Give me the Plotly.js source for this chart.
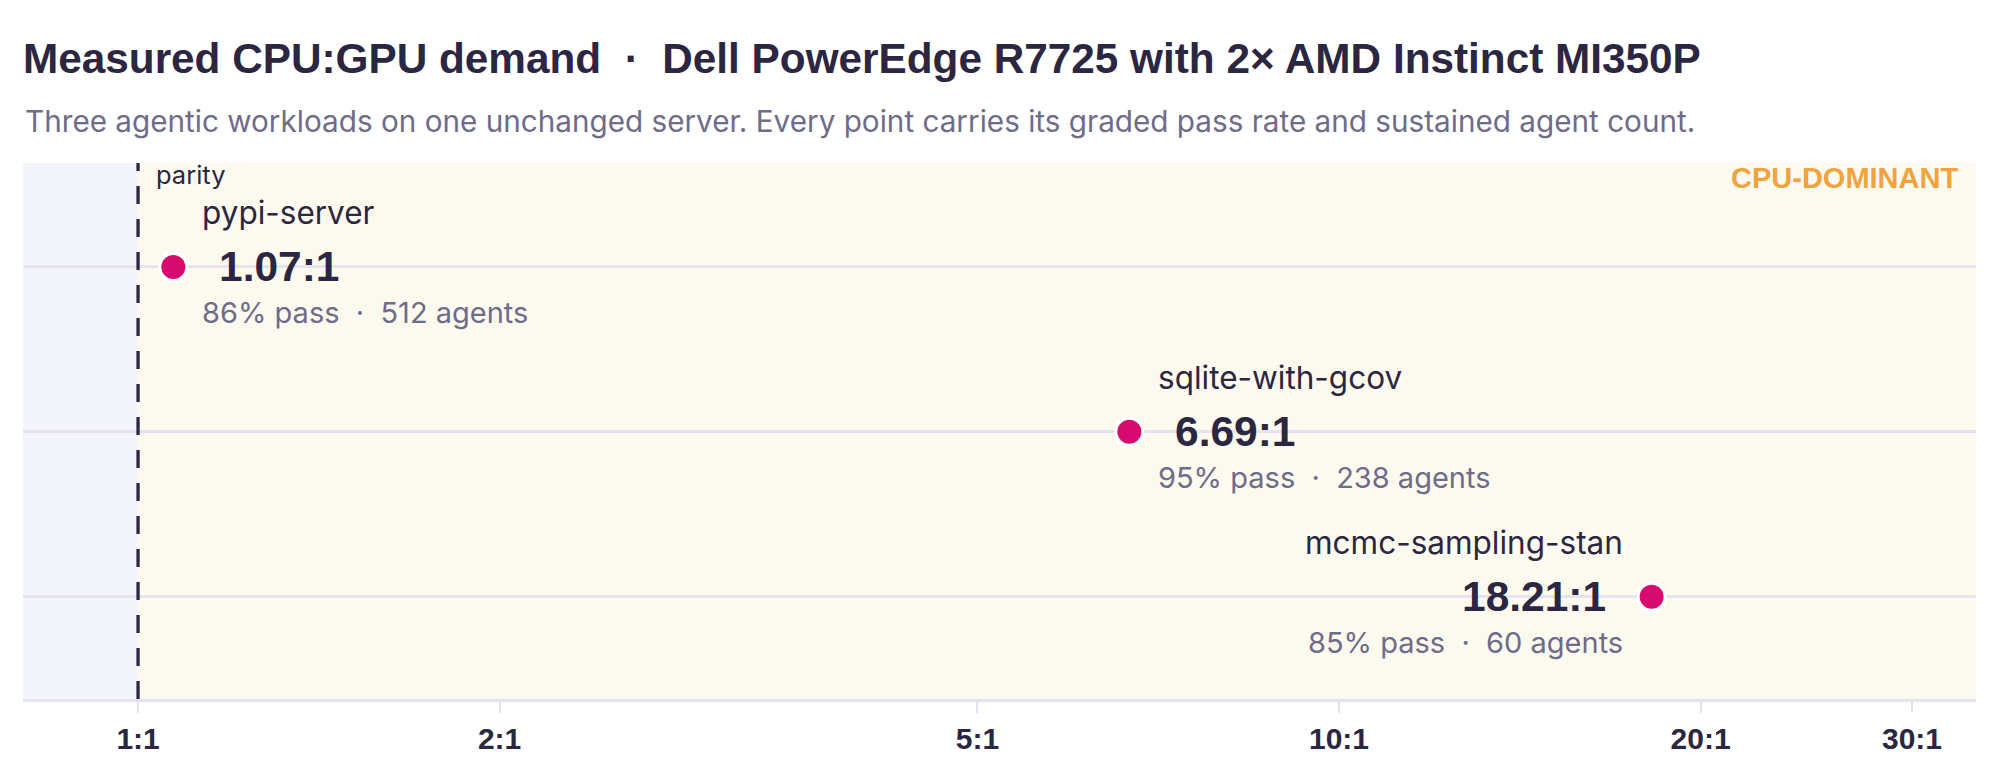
<!DOCTYPE html>
<html>
<head>
<meta charset="utf-8">
<script src="https://cdn.plot.ly/plotly-3.0.1.min.js"></script>
<style>
  html, body { margin: 0; padding: 0; background: #ffffff; }
  #chart { width: 1999px; height: 764px; }
</style>
</head>
<body>
<div id="chart"></div>
<script>
// Measured workloads, top row to bottom row
const workloads = ['pypi-server', 'sqlite-with-gcov', 'mcmc-sampling-stan'];
const cpuGpuRatio = [1.07, 6.69, 18.21];
const passRate = [86, 95, 85];
const agentCount = [512, 238, 60];

// x axis ticks (log scale)
const tickValues = [1, 2, 5, 10, 20, 30];
const tickLabels = ['1:1', '2:1', '5:1', '10:1', '20:1', '30:1'];

const xRangeLog = [-0.0958, 1.5304];
const yRange = [2.62, -0.63];

const ink = '#2b2641';
const muted = '#6f6b8a';
const grid = '#e6e3f0';
const magenta = '#d60a6f';
const regular = 'Inter, "Noto Sans", sans-serif';
const bold = '"Liberation Sans", Arial, sans-serif';

const rows = workloads.map((_, i) => i);

const trace = {
  x: cpuGpuRatio,
  y: rows,
  type: 'scatter',
  mode: 'markers',
  marker: { size: 27, color: magenta, line: { color: '#ffffff', width: 3 } },
  hoverinfo: 'skip',
  cliponaxis: false
};

// labels sit left of the point when it is close to the right edge
const annotations = [];
workloads.forEach((name, i) => {
  const lx = Math.log10(cpuGpuRatio[i]);
  const left = cpuGpuRatio[i] > 12;
  const dir = left ? -1 : 1;
  const anchor = left ? 'right' : 'left';
  annotations.push({
    x: lx, y: i, xref: 'x', yref: 'y', text: name, showarrow: false,
    xanchor: anchor, yanchor: 'middle', xshift: 27 * dir, yshift: 54,
    font: { family: regular, size: 31.5, color: ink }
  });
  annotations.push({
    x: lx, y: i, xref: 'x', yref: 'y', text: cpuGpuRatio[i].toFixed(2) + ':1', showarrow: false,
    xanchor: anchor, yanchor: 'middle', xshift: 44 * dir, yshift: 0,
    font: { family: bold, size: 42.5, color: ink, weight: 700 }
  });
  annotations.push({
    x: lx, y: i, xref: 'x', yref: 'y',
    text: passRate[i] + '% pass \u00a0\u00b7\u00a0 ' + agentCount[i] + ' agents', showarrow: false,
    xanchor: anchor, yanchor: 'middle', xshift: 27 * dir, yshift: -46,
    font: { family: regular, size: 29, color: muted }
  });
});

annotations.push({
  x: 0, y: 1, xref: 'x', yref: 'paper', text: 'parity', showarrow: false,
  xanchor: 'left', yanchor: 'top', xshift: 16, yshift: 6,
  font: { family: regular, size: 25.5, color: ink }
});
annotations.push({
  x: 1, y: 1, xref: 'paper', yref: 'paper', text: 'CPU-DOMINANT', showarrow: false,
  xanchor: 'right', yanchor: 'top', xshift: -16, yshift: 3,
  font: { family: bold, size: 29, color: '#f0a33f', weight: 700 }
});
annotations.push({
  x: 0, y: 1, xref: 'paper', yref: 'paper',
  text: 'Three agentic workloads on one unchanged server. Every point carries its graded pass rate and sustained agent count.',
  showarrow: false, xanchor: 'left', yanchor: 'middle', yshift: 42,
  font: { family: regular, size: 29.7, color: muted }
});

const shapes = [
  { type: 'rect', xref: 'x', yref: 'paper', x0: Math.pow(10, xRangeLog[0]), x1: 1, y0: 0, y1: 1,
    fillcolor: '#f4f5fb', line: { width: 0 }, layer: 'below' },
  { type: 'rect', xref: 'x', yref: 'paper', x0: 1, x1: Math.pow(10, xRangeLog[1]), y0: 0, y1: 1,
    fillcolor: '#fcfaef', line: { width: 0 }, layer: 'below' },
  { type: 'line', xref: 'x', yref: 'paper', x0: 1, x1: 1, y0: 0, y1: 1,
    line: { color: ink, width: 3.3, dash: '18px,15px' } }
];

const layout = {
  width: 1999,
  height: 764,
  margin: { l: 23, r: 23, t: 163, b: 65 },
  paper_bgcolor: '#ffffff',
  plot_bgcolor: '#ffffff',
  showlegend: false,
  title: {
    text: 'Measured CPU:GPU demand \u00a0\u00b7\u00a0 Dell PowerEdge R7725 with 2\u00d7 AMD Instinct MI350P',
    x: 0, xref: 'paper', xanchor: 'left',
    y: 1 - 58 / 764, yref: 'container', yanchor: 'middle',
    font: { family: bold, size: 42.3, color: ink, weight: 700 }
  },
  xaxis: {
    type: 'log',
    range: xRangeLog,
    tickvals: tickValues,
    ticktext: tickLabels,
    ticks: 'outside',
    ticklen: 11,
    tickwidth: 2,
    tickcolor: grid,
    showline: true,
    linecolor: grid,
    linewidth: 3,
    showgrid: false,
    zeroline: false,
    tickfont: { family: bold, size: 30, color: ink, weight: 700 },
    fixedrange: true
  },
  yaxis: {
    range: yRange,
    tickvals: rows,
    showticklabels: false,
    showgrid: true,
    gridcolor: grid,
    gridwidth: 3,
    zeroline: false,
    fixedrange: true
  },
  shapes: shapes,
  annotations: annotations
};

Plotly.newPlot('chart', [trace], layout, { displayModeBar: false, staticPlot: true });
</script>
</body>
</html>
